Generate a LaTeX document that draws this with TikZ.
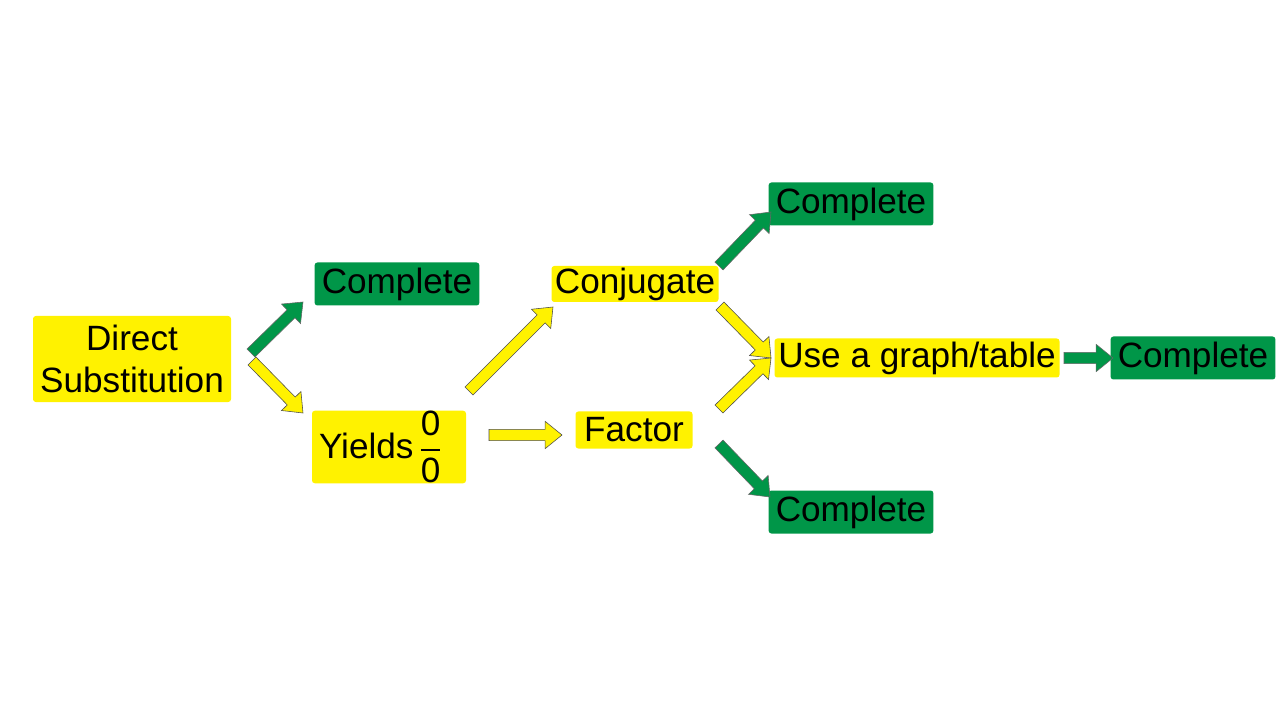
\documentclass[tikz,border=0pt]{standalone}
\usepackage{amsmath}
\usepackage{fontspec}
\setmainfont{Liberation Sans}
\usetikzlibrary{calc}
\definecolor{boxyellow}{RGB}{255,242,0}
\definecolor{boxgreen}{RGB}{0,150,72}
% block arrow between two named points: shaft, head length, head half-width
\def\shaftw{0.14cm}
\def\headl{0.42cm}
\def\headw{0.34cm}
\newcommand{\blockarrow}[3][]{%
  \filldraw[#1] ($(#2)!\shaftw!90:(#3)$)
    -- ($(#3)!\headl!(#2)!\shaftw!90:(#3)$)
    -- ($(#3)!\headl!(#2)!\headw!90:(#3)$)
    -- (#3)
    -- ($(#3)!\headl!(#2)!\headw!-90:(#3)$)
    -- ($(#3)!\headl!(#2)!\shaftw!-90:(#3)$)
    -- ($(#2)!\shaftw!-90:(#3)$) -- cycle;}

\begin{document}
\begin{tikzpicture}[
  ybox/.style={fill=boxyellow,rounded corners=2pt,inner sep=0pt,align=center,
    font=\fontsize{25}{30}\selectfont},
  gbox/.style={fill=boxgreen,rounded corners=2pt,inner sep=0pt,
    minimum width=4.12cm,minimum height=1.075cm,font=\fontsize{25}{30}\selectfont},
  yarrow/.style={fill=boxyellow,draw=black!70,line width=0.4pt},
  garrow/.style={fill=boxgreen,draw=black!60,line width=0.4pt}]
\useasboundingbox (0,0) rectangle (32,18);
% ---- boxes ----
\node[ybox,minimum width=4.95cm,minimum height=2.15cm] (ds) at (3.3,9.025) {Direct\\Substitution};
\node[gbox] (c1) at (9.925,10.9) {Complete};
\node[ybox,minimum width=3.85cm,minimum height=1.8cm] (yl) at (9.725,6.825)
  {Yields\hspace{4pt}$\dfrac{\text{0}}{\text{0}}$\hspace{12pt}};
\node[ybox,minimum width=4.175cm,minimum height=0.9cm] (cj) at (15.875,10.9) {Conjugate};
\node[ybox,minimum width=2.925cm,minimum height=0.925cm] (fa) at (15.85,7.25) {Factor};
\node[gbox] (c2) at (21.275,12.9) {Complete};
\node[ybox,minimum width=7.125cm,minimum height=0.975cm] (ug) at (22.925,9.05) {Use a graph/table};
\node[gbox] (c3) at (29.825,9.05) {Complete};
\node[gbox] (c4) at (21.275,5.2) {Complete};
% ---- arrow ends ----
\coordinate (ds-c1) at (6.275,9.175);  \coordinate (c1-in) at (7.575,10.45);
\coordinate (ds-yl) at (6.3,8.975);    \coordinate (yl-in) at (7.575,7.675);
\coordinate (yl-cj) at (11.725,8.225); \coordinate (cj-in) at (13.825,10.325);
\coordinate (yl-fa) at (12.225,7.125); \coordinate (fa-in) at (14.05,7.125);
\coordinate (cj-ug) at (18.0,10.35);   \coordinate (ug-in) at (19.275,9.05);
\coordinate (fa-ug) at (17.975,7.775);
\coordinate (cj-c2) at (17.975,11.35); \coordinate (c2-in) at (19.275,12.7);
\coordinate (fa-c4) at (17.975,6.9);   \coordinate (c4-in) at (19.25,5.575);
\coordinate (ug-c3) at (26.6,9.05);    \coordinate (c3-in) at (27.825,9.05);
% ---- block arrows ----
\blockarrow[garrow]{ds-c1}{c1-in}
\blockarrow[yarrow]{ds-yl}{yl-in}
\blockarrow[yarrow]{yl-cj}{cj-in}
\blockarrow[yarrow]{yl-fa}{fa-in}
\blockarrow[yarrow]{cj-ug}{ug-in}
\blockarrow[yarrow]{fa-ug}{ug-in}
\blockarrow[garrow]{cj-c2}{c2-in}
\blockarrow[garrow]{fa-c4}{c4-in}
\blockarrow[garrow]{ug-c3}{c3-in}
\end{tikzpicture}
\end{document}
